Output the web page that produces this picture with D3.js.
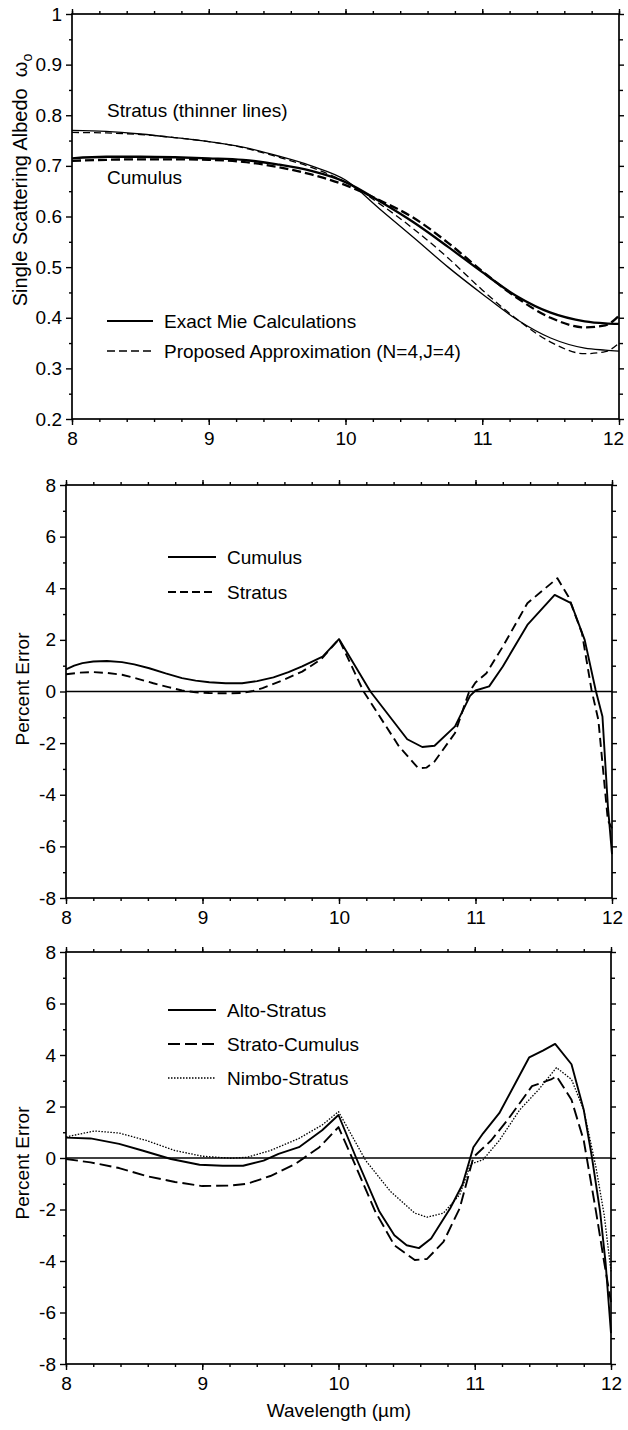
<!DOCTYPE html>
<html lang="en">
  <head>
    <meta charset="utf-8">
    <title>Single scattering albedo and percent error</title>
    <script src="https://d3js.org/d3.v7.js"></script>
    <style>
      body { margin: 0; background: white; }
      text { font-family: "Liberation Sans", Arial, Helvetica, sans-serif; fill: black; }
    </style>
  </head>

  <body>

  <script>

// Values

  var waveTicks = [8, 9, 10, 11, 12];
  var albedoTicks = [0.2, 0.3, 0.4, 0.5, 0.6, 0.7, 0.8, 0.9, 1];
  var errorTicks = [-8, -6, -4, -2, 0, 2, 4, 6, 8];

  // top panel: single scattering albedo
  var albedoWave     = [8.0, 8.25, 8.5, 8.75, 9.0, 9.25, 9.5, 9.75, 10.0, 10.25, 10.5, 10.75, 11.0, 11.25, 11.5, 11.75, 11.9, 12.0];
  var cumulusExact   = [0.715, 0.718, 0.718, 0.717, 0.715, 0.712, 0.703, 0.690, 0.668, 0.630, 0.588, 0.540, 0.490, 0.443, 0.410, 0.393, 0.389, 0.388];
  var cumulusApprox  = [0.710, 0.712, 0.713, 0.713, 0.712, 0.708, 0.698, 0.683, 0.662, 0.632, 0.597, 0.548, 0.492, 0.440, 0.400, 0.381, 0.385, 0.404];
  var stratusExact   = [0.770, 0.768, 0.763, 0.756, 0.748, 0.737, 0.720, 0.700, 0.672, 0.615, 0.558, 0.500, 0.447, 0.397, 0.360, 0.340, 0.336, 0.334];
  var stratusApprox  = [0.766, 0.765, 0.762, 0.756, 0.748, 0.736, 0.718, 0.697, 0.668, 0.625, 0.575, 0.518, 0.455, 0.398, 0.352, 0.329, 0.333, 0.350];

  // middle panel: percent error, cumulus and stratus
  var cumulusErrWave = [8.0, 8.06, 8.12, 8.2, 8.3, 8.41, 8.5, 8.61, 8.73, 8.85, 8.95, 9.05, 9.17, 9.29, 9.4, 9.52, 9.63, 9.73, 9.88, 10.0,
                        10.23, 10.5, 10.61, 10.7, 10.85, 10.96, 11.0, 11.1, 11.2, 11.38, 11.58, 11.7, 11.8, 11.88, 11.93, 11.97, 12.0];
  var cumulusErr     = [0.86, 1.0, 1.10, 1.16, 1.18, 1.14, 1.05, 0.90, 0.70, 0.52, 0.42, 0.36, 0.32, 0.32, 0.40, 0.55, 0.75, 0.97, 1.35, 2.03,
                        0.0, -1.85, -2.15, -2.10, -1.35, -0.17, 0.04, 0.20, 0.97, 2.58, 3.74, 3.42, 2.0, 0.06, -0.97, -4.45, -6.3];
  var stratusErrWave = [8.0, 8.1, 8.2, 8.3, 8.41, 8.52, 8.64, 8.75, 8.85, 8.95, 9.05, 9.17, 9.29, 9.37, 9.44, 9.58, 9.73, 9.87, 10.0,
                        10.18, 10.44, 10.58, 10.64, 10.7, 10.85, 10.95, 11.0, 11.08, 11.2, 11.38, 11.6, 11.68, 11.78, 11.85, 11.9, 11.97, 12.0];
  var stratusErr     = [0.67, 0.73, 0.75, 0.72, 0.65, 0.50, 0.32, 0.17, 0.04, -0.03, -0.06, -0.07, -0.06, 0.02, 0.13, 0.42, 0.77, 1.25, 2.03,
                        0.0, -2.13, -2.97, -2.95, -2.71, -1.61, -0.06, 0.35, 0.71, 1.74, 3.42, 4.39, 3.68, 2.26, 0.06, -1.1, -5.0, -5.3];

  // bottom panel: percent error, three more cloud types
  var altoWave   = [8.0, 8.18, 8.39, 8.56, 8.77, 8.98, 9.15, 9.3, 9.45, 9.56, 9.71, 9.88, 10.0, 10.13, 10.3, 10.41, 10.5, 10.59, 10.68,
                    10.82, 10.91, 10.99, 11.06, 11.18, 11.3, 11.4, 11.5, 11.59, 11.71, 11.8, 11.86, 11.92, 11.96, 12.0];
  var altoErr    = [0.79, 0.76, 0.55, 0.29, -0.04, -0.26, -0.30, -0.30, -0.10, 0.16, 0.42, 1.08, 1.67, 0.0, -2.08, -3.0, -3.39, -3.5, -3.13,
                    -1.95, -1.03, 0.42, 0.95, 1.74, 2.92, 3.91, 4.17, 4.43, 3.64, 1.87, 0.03, -2.08, -4.05, -6.8];
  var stratoWave = [8.0, 8.18, 8.39, 8.59, 8.8, 9.0, 9.21, 9.33, 9.5, 9.68, 9.86, 10.0, 10.12, 10.27, 10.41, 10.56, 10.65, 10.77,
                    10.89, 10.99, 11.12, 11.24, 11.42, 11.56, 11.6, 11.71, 11.8, 11.89, 11.95, 12.0];
  var stratoErr  = [-0.04, -0.17, -0.39, -0.70, -0.93, -1.09, -1.07, -1.0, -0.70, -0.24, 0.42, 1.2, -0.24, -2.08, -3.39, -3.96, -3.92, -3.26,
                    -1.95, 0.03, 0.68, 1.47, 2.79, 3.05, 3.18, 2.26, 0.68, -2.08, -4.05, -5.6];
  var nimboWave  = [8.0, 8.21, 8.39, 8.59, 8.8, 9.0, 9.21, 9.33, 9.5, 9.71, 9.88, 10.0, 10.2, 10.38, 10.56, 10.65, 10.77, 10.89,
                    10.97, 11.06, 11.18, 11.33, 11.47, 11.6, 11.71, 11.8, 11.89, 11.95, 12.0];
  var nimboErr   = [0.82, 1.05, 0.97, 0.68, 0.29, 0.07, -0.01, 0.03, 0.29, 0.76, 1.28, 1.8, -0.1, -1.29, -2.14, -2.3, -2.14, -1.42,
                    -0.24, -0.07, 0.68, 1.87, 2.66, 3.51, 3.05, 1.87, -0.37, -2.21, -4.4];

// Svg

  var w = 628;
  var h = 1430;
  var fontSize = 19;

  var svg = d3.select("body")
    .append("svg")
      .attr("width", w)
      .attr("height", h);

  svg.append("rect")
      .attr("width", w)
      .attr("height", h)
      .attr("fill", "white");

  function styleAxis(g) {
    g.select(".domain").remove();
    g.selectAll("line").attr("stroke", "black").attr("stroke-width", 1.4);
    g.selectAll("text")
        .attr("font-size", fontSize)
        .attr("font-family", "'Liberation Sans', Arial, sans-serif")
        .attr("fill", "black");
  }

  function makePanel(p) {
    var x = d3.scaleLinear().domain([8, 12]).range([p.left, p.right]);
    var y = d3.scaleLinear().domain([p.yTicks[0], p.yTicks[p.yTicks.length - 1]]).range([p.bottom, p.top]);
    var g = svg.append("g");

    // minor ticks on all four sides
    g.append("g").attr("transform", `translate(0, ${p.bottom})`)
        .call(d3.axisBottom(x).tickValues(d3.range(8, 12.001, 0.2)).tickSize(3).tickFormat(""))
        .call(styleAxis);
    g.append("g").attr("transform", `translate(0, ${p.top})`)
        .call(d3.axisTop(x).tickValues(d3.range(8, 12.001, 0.2)).tickSize(3).tickFormat(""))
        .call(styleAxis);
    g.append("g").attr("transform", `translate(${p.left}, 0)`)
        .call(d3.axisLeft(y).tickValues(p.yMinor).tickSize(3).tickFormat(""))
        .call(styleAxis);
    g.append("g").attr("transform", `translate(${p.right}, 0)`)
        .call(d3.axisRight(y).tickValues(p.yMinor).tickSize(4).tickFormat(""))
        .call(styleAxis);

    // major ticks and labels
    var xAxis = g.append("g").attr("transform", `translate(0, ${p.bottom})`)
        .call(d3.axisBottom(x).tickValues(waveTicks).tickSize(6).tickPadding(7).tickFormat(d => String(d)))
        .call(styleAxis);
    // keep the last label inside the page
    xAxis.selectAll(".tick text").filter(d => d === 12).attr("dx", p.lastDx || 0);

    g.append("g").attr("transform", `translate(0, ${p.top})`)
        .call(d3.axisTop(x).tickValues(waveTicks).tickSize(5).tickFormat(""))
        .call(styleAxis);
    g.append("g").attr("transform", `translate(${p.left}, 0)`)
        .call(d3.axisLeft(y).tickValues(p.yTicks).tickSize(6).tickPadding(4).tickFormat(p.yFormat))
        .call(styleAxis);
    g.append("g").attr("transform", `translate(${p.right}, 0)`)
        .call(d3.axisRight(y).tickValues(p.yTicks).tickSize(5).tickFormat(""))
        .call(styleAxis);

    // frame
    g.append("rect")
        .attr("x", p.left)
        .attr("y", p.top)
        .attr("width", p.right - p.left)
        .attr("height", p.bottom - p.top)
        .attr("fill", "none")
        .attr("stroke", "black")
        .attr("stroke-width", 1.7);

    return {x: x, y: y, g: g};
  }

  function yTitle(panel, tx, ty, label) {
    return panel.g.append("text")
        .attr("transform", `translate(${tx}, ${ty}) rotate(-90)`)
        .attr("text-anchor", "middle")
        .attr("dy", "0.35em")
        .attr("font-size", fontSize)
        .text(label);
  }

  function drawSeries(panel, wave, values, width, dash) {
    var line = d3.line()
        .x((d, i) => panel.x(wave[i]))
        .y(d => panel.y(d))
        .curve(panel.curve || d3.curveLinear);
    panel.g.append("path")
        .datum(values)
        .attr("d", line)
        .attr("fill", "none")
        .attr("stroke", "black")
        .attr("stroke-width", width)
        .attr("stroke-linejoin", "round")
        .attr("stroke-dasharray", dash);
  }

  function legendRow(panel, x0, x1, ty, label, width, dash) {
    panel.g.append("line")
        .attr("x1", x0).attr("x2", x1)
        .attr("y1", ty).attr("y2", ty)
        .attr("stroke", "black")
        .attr("stroke-width", width)
        .attr("stroke-dasharray", dash);
    panel.g.append("text")
        .attr("x", x1 + 11)
        .attr("y", ty)
        .attr("dy", "0.35em")
        .attr("font-size", fontSize)
        .text(label);
  }

  function zeroLine(panel) {
    panel.g.append("line")
        .attr("x1", panel.x(8)).attr("x2", panel.x(12))
        .attr("y1", panel.y(0)).attr("y2", panel.y(0))
        .attr("stroke", "black")
        .attr("stroke-width", 1.6);
  }

// Panel 1: albedo

  var p1 = makePanel({
    left: 72, right: 619, top: 14, bottom: 419,
    yTicks: albedoTicks,
    yMinor: d3.range(0.25, 1, 0.1),
    yFormat: d => d === 1 ? "1" : d.toFixed(1),
    lastDx: -6
  });
  p1.curve = d3.curveMonotoneX;

  yTitle(p1, 20, 180, "Single Scattering Albedo \u00a0\u03c9")
      .attr("font-size", 20)
    .append("tspan")
      .attr("font-size", 14)
      .attr("dy", "0.35em")
      .text("o");

  drawSeries(p1, albedoWave, stratusExact, 1.3, null);
  drawSeries(p1, albedoWave, stratusApprox, 1.3, "7,4");
  drawSeries(p1, albedoWave, cumulusExact, 2.3, null);
  drawSeries(p1, albedoWave, cumulusApprox, 2.3, "9,4");

  p1.g.append("text").attr("x", 107).attr("y", 110).attr("dy", "0.35em")
      .attr("font-size", fontSize).text("Stratus (thinner lines)");
  p1.g.append("text").attr("x", 107).attr("y", 177).attr("dy", "0.35em")
      .attr("font-size", fontSize).text("Cumulus");

  legendRow(p1, 107, 153, 321, "Exact Mie Calculations", 2, null);
  legendRow(p1, 107, 153, 351, "Proposed Approximation (N=4,J=4)", 1.6, "8,4");

// Panel 2: percent error, cumulus / stratus

  var p2 = makePanel({
    left: 66, right: 612, top: 485, bottom: 898,
    yTicks: errorTicks,
    yMinor: d3.range(-7, 8, 2),
    yFormat: d => String(d)
  });

  yTitle(p2, 22, 689, "Percent Error");
  zeroLine(p2);
  drawSeries(p2, cumulusErrWave, cumulusErr, 1.9, null);
  drawSeries(p2, stratusErrWave, stratusErr, 1.9, "9,5");

  legendRow(p2, 168, 216, 557, "Cumulus", 1.9, null);
  legendRow(p2, 168, 216, 592, "Stratus", 1.9, "8,4");

// Panel 3: percent error, three cloud types

  var p3 = makePanel({
    left: 66, right: 611, top: 952, bottom: 1364,
    yTicks: errorTicks,
    yMinor: d3.range(-7, 8, 2),
    yFormat: d => String(d)
  });

  yTitle(p3, 22, 1163, "Percent Error");
  zeroLine(p3);
  drawSeries(p3, nimboWave, nimboErr, 1.3, "1.5,1.5");
  drawSeries(p3, stratoWave, stratoErr, 1.9, "12,5");
  drawSeries(p3, altoWave, altoErr, 1.9, null);

  legendRow(p3, 168, 216, 1010, "Alto-Stratus", 1.9, null);
  legendRow(p3, 168, 216, 1044, "Strato-Cumulus", 1.9, "12,5");
  legendRow(p3, 168, 216, 1078, "Nimbo-Stratus", 1.3, "1.5,1.5");

  svg.append("text")
      .attr("x", 339)
      .attr("y", 1410)
      .attr("dy", "0.35em")
      .attr("text-anchor", "middle")
      .attr("font-size", fontSize)
      .text("Wavelength (\u00b5m)");

  </script>

  </body>

</html>
